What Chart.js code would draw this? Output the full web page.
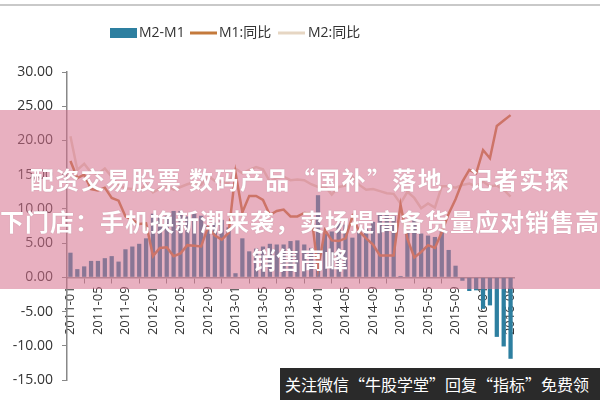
<!DOCTYPE html>
<html>
<head>
<meta charset="utf-8">
<script src="https://cdn.jsdelivr.net/npm/chart.js@4/dist/chart.umd.min.js"></script>
<style>
    html, body { margin: 0; padding: 0; background: #fff; }
    #wrap { position: relative; width: 600px; height: 400px; overflow: hidden; font-family: "Noto Sans CJK SC", sans-serif; }
    #topline { position: absolute; left: 0; top: 4px; width: 600px; height: 2px; background: #c9c9c9; }
    #band { position: absolute; left: 0; top: 110px; width: 600px; height: 179px; background: rgba(213,111,140,0.55); }
    .t { position: absolute; color: #fff; font-weight: 700; font-size: 24px; line-height: 30px; white-space: nowrap; text-shadow: 0 0 1px rgba(120,60,80,0.4); }
    #promo { position: absolute; left: 280px; top: 368px; width: 320px; height: 32px; background: #2a2a2a; color: #fff; font-size: 16px; line-height: 32px; white-space: nowrap; padding-left: 5px; box-sizing: border-box; }
</style>
</head>
<body>
<div id="wrap">
    <canvas id="moneyChart" width="600" height="400"></canvas>
    <div id="topline"></div>
    <div id="band"></div>
    <div class="t" style="left:0;width:600px;text-align:center;top:164px;letter-spacing:1.4px">配资交易股票 数码产品“国补”落地，记者实探</div>
    <div class="t" style="left:0;top:206px;letter-spacing:1px">下门店：手机换新潮来袭，卖场提高备货量应对销售高</div>
    <div class="t" style="left:0;width:600px;text-align:center;top:244px">销售高峰</div>
    <div id="promo">关注微信“牛股学堂”回复“指标”免费领</div>
</div>
<script>
// monthly, 2011-01 .. 2016-05
const months = [
    '2011-01','2011-02','2011-03','2011-04','2011-05','2011-06','2011-07','2011-08','2011-09','2011-10','2011-11','2011-12',
    '2012-01','2012-02','2012-03','2012-04','2012-05','2012-06','2012-07','2012-08','2012-09','2012-10','2012-11','2012-12',
    '2013-01','2013-02','2013-03','2013-04','2013-05','2013-06','2013-07','2013-08','2013-09','2013-10','2013-11','2013-12',
    '2014-01','2014-02','2014-03','2014-04','2014-05','2014-06','2014-07','2014-08','2014-09','2014-10','2014-11','2014-12',
    '2015-01','2015-02','2015-03','2015-04','2015-05','2015-06','2015-07','2015-08','2015-09','2015-10','2015-11','2015-12',
    '2016-01','2016-02','2016-03','2016-04','2016-05'
];

const m2m1 = [
    3.6, 1.2, 1.6, 2.4, 2.4, 2.8, 3.1, 2.3, 4.1, 4.5, 4.9, 5.7,
    9.3, 8.7, 9.0, 9.7, 9.7, 8.9, 9.3, 9.0, 7.5, 8.0, 8.4, 7.3,
    0.6, 5.7, 3.8, 4.2, 4.5, 4.9, 4.8, 4.8, 5.3, 5.4, 4.8, 4.3,
    12.0, 6.4, 6.7, 7.9, 7.7, 5.8, 6.8, 7.1, 8.1, 9.4, 9.1, 9.0,
    0.2, 6.9, 8.7, 6.4, 6.1, 5.9, 6.7, 4.0, 1.7, -0.5, -2.0, -1.9,
    -4.6, -4.1, -8.7, -10.1, -11.9
];

const m1 = [
    17.0, 14.5, 15.0, 12.9, 12.7, 13.1, 11.6, 11.2, 8.9, 8.4, 7.8, 7.9,
    3.1, 4.3, 4.4, 3.1, 3.5, 4.7, 4.6, 4.5, 7.3, 6.1, 5.5, 6.5,
    15.3, 9.5, 11.9, 11.9, 11.3, 9.1, 9.7, 9.9, 8.9, 8.9, 9.4, 9.3,
    1.2, 6.9, 5.4, 5.3, 5.7, 8.9, 6.7, 5.7, 4.8, 3.2, 3.2, 3.2,
    10.6, 5.6, 2.9, 3.7, 4.7, 4.3, 6.6, 9.3, 11.4, 14.0, 15.7, 15.2,
    18.6, 17.4, 22.1, 22.9, 23.7
];

const m2 = [
    20.6, 15.7, 16.6, 15.3, 15.1, 15.9, 14.7, 13.5, 13.0, 12.9, 12.7, 13.6,
    12.4, 13.0, 13.4, 12.8, 13.2, 13.6, 13.9, 13.5, 14.8, 14.1, 13.9, 13.8,
    15.9, 15.2, 15.7, 16.1, 15.8, 14.0, 14.5, 14.7, 14.2, 14.3, 14.2, 13.6,
    13.2, 13.3, 12.1, 13.2, 13.4, 14.7, 13.5, 12.8, 12.9, 12.6, 12.3, 12.2,
    10.8, 12.5, 11.6, 10.1, 10.8, 10.2, 13.3, 13.3, 13.1, 13.5, 13.7, 13.3,
    14.0, 13.3, 13.4, 12.8, 11.8
];

const seriesNames = ['M2-M1', 'M1:同比', 'M2:同比'];
const yTicks = [-15, -10, -5, 0, 5, 10, 15, 20, 25, 30];

Chart.defaults.font.family = "'Open Sans', sans-serif";

// legend sits left of centre in the original, so draw it by hand
const topLegend = {
    id: 'topLegend',
    afterDraw(chart) {
        const ctx = chart.ctx;
        const ds = chart.data.datasets;
        ctx.save();
        ctx.fillStyle = ds[0].backgroundColor;
        ctx.fillRect(110, 28, 27, 10);
        ctx.lineWidth = 3;
        ctx.strokeStyle = ds[1].borderColor;
        ctx.beginPath(); ctx.moveTo(190, 33); ctx.lineTo(217, 33); ctx.stroke();
        ctx.strokeStyle = ds[2].borderColor;
        ctx.beginPath(); ctx.moveTo(278, 33); ctx.lineTo(305, 33); ctx.stroke();
        ctx.fillStyle = '#333';
        ctx.font = "14px 'Open Sans', 'Noto Sans CJK SC', sans-serif";
        ctx.textBaseline = 'middle';
        ctx.fillText(ds[0].label, 139, 33);
        ctx.fillText(ds[1].label, 219, 33);
        ctx.fillText(ds[2].label, 308, 33);
        ctx.restore();
    }
};

new Chart(document.getElementById('moneyChart'), {
    type: 'bar',
    data: {
        labels: months,
        datasets: [
            { type: 'bar', label: seriesNames[0], data: m2m1, backgroundColor: '#2d7fa0', barPercentage: 0.62, categoryPercentage: 1, order: 3 },
            { type: 'line', label: seriesNames[1], data: m1, borderColor: '#c47a3c', borderWidth: 2.5, pointRadius: 0, tension: 0, order: 1 },
            { type: 'line', label: seriesNames[2], data: m2, borderColor: '#e6d6c3', borderWidth: 2.5, pointRadius: 0, tension: 0, order: 2 }
        ]
    },
    options: {
        responsive: false,
        animation: false,
        layout: { padding: { top: 72, bottom: 20, left: 0, right: 86 } },
        plugins: { legend: { display: false }, tooltip: { enabled: false } },
        scales: {
            x: {
                position: { y: 0 },
                grid: { drawOnChartArea: false, offset: true, tickLength: 5, color: '#888' },
                border: { color: '#999', width: 1.5 },
                ticks: {
                    autoSkip: false, minRotation: 90, maxRotation: 90, padding: 4,
                    color: '#333', font: { size: 13 },
                    callback: (v, i) => i % 4 === 0 ? months[i] : null
                }
            },
            y: {
                min: yTicks[0], max: yTicks[yTicks.length - 1],
                afterBuildTicks: s => { s.ticks = yTicks.map(v => ({ value: v })); },
                afterFit: s => { s.width = 67; },
                grid: { drawOnChartArea: false, tickLength: 5, color: '#888' },
                border: { color: '#888', width: 1.5 },
                ticks: { padding: 9, color: '#333', font: { size: 14 }, callback: v => v.toFixed(2) }
            }
        }
    },
    plugins: [topLegend]
});
</script>
</body>
</html>
